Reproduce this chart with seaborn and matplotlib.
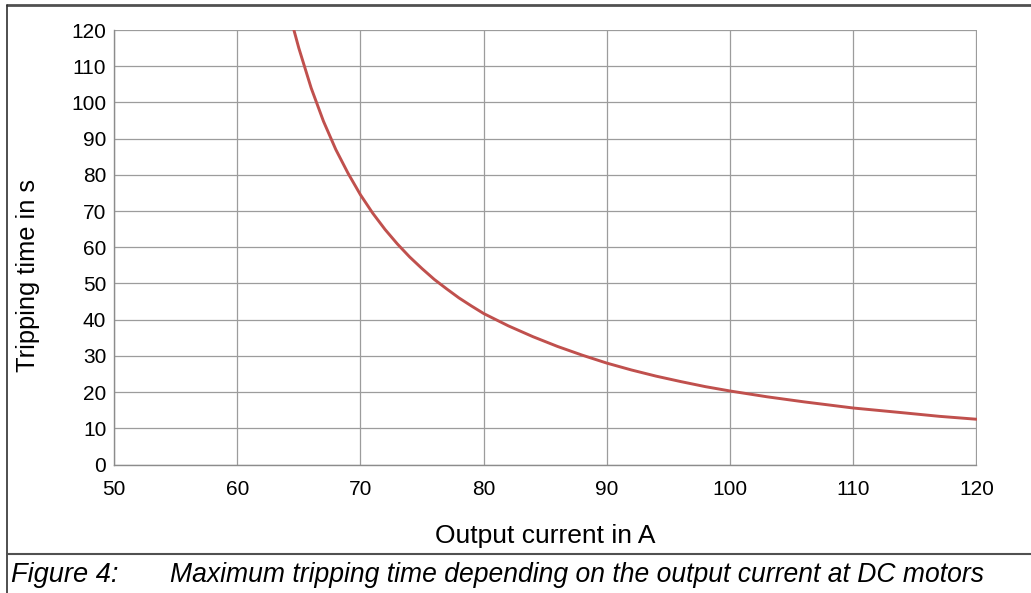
import matplotlib
matplotlib.use("Agg")
import matplotlib.pyplot as plt
from matplotlib.lines import Line2D
import seaborn as sns
import pandas as pd

# Data
current_a = [64.6, 65, 66, 67, 68, 69, 70, 71, 72, 73, 74, 75, 76, 77, 78, 79, 80,
             82, 84, 86, 88, 90, 92, 94, 96, 98, 100, 103, 106, 110, 114, 117, 120]
trip_time_s = [120, 115, 104, 94.8, 87, 80.4, 74.5, 69.4, 64.9, 60.9, 57.3, 54.1, 51.1,
               48.5, 46.0, 43.8, 41.7, 38.3, 35.3, 32.6, 30.2, 28.0, 26.1, 24.4, 22.9,
               21.5, 20.3, 18.7, 17.3, 15.6, 14.3, 13.3, 12.5]
x_ticks = [50, 60, 70, 80, 90, 100, 110, 120]
y_ticks = [0, 10, 20, 30, 40, 50, 60, 70, 80, 90, 100, 110, 120]

x_label = "Output current in A"
y_label = "Tripping time in s"
caption_num = "Figure 4:"
caption_text = "Maximum tripping time depending on the output current at DC motors"

df = pd.DataFrame({"current": current_a, "time": trip_time_s})

sns.set_theme(style="white")
plt.rcParams["font.family"] = ["Liberation Sans", "DejaVu Sans"]

W, H = 1031, 593
fig = plt.figure(figsize=(W / 100, H / 100), dpi=100)
fig.patch.set_facecolor("white")

left, right, top, bottom = 114, 976.5, 30, 464.5
ax = fig.add_axes([left / W, 1 - bottom / H, (right - left) / W, (bottom - top) / H])

sns.lineplot(data=df, x="current", y="time", ax=ax, color="#C0504D", linewidth=2.1)

ax.set_xlim(50, 120)
ax.set_ylim(0, 120)
ax.set_xticks(x_ticks)
ax.set_yticks(y_ticks)
ax.grid(True, color="#9C9C9C", linewidth=0.9)
ax.set_axisbelow(True)
for s in ["top", "right"]:
    ax.spines[s].set_visible(False)
for s in ["left", "bottom"]:
    ax.spines[s].set_color("#8C8C8C")
    ax.spines[s].set_linewidth(1.0)
ax.tick_params(axis="both", which="both", length=4, width=1, color="#8C8C8C",
               labelsize=15, labelcolor="#000000", direction="out")
ax.tick_params(axis="x", pad=7)
ax.tick_params(axis="y", pad=1.5)

ax.set_xlabel(x_label, fontsize=19, va="baseline", color="black")
ax.xaxis.set_label_coords(0.5, -(543 - bottom) / (bottom - top))
ax.set_ylabel(y_label, fontsize=18.3, va="center", color="black")
ax.yaxis.set_label_coords((28 - left) / (right - left), (bottom - 275) / (bottom - top))

# Frame lines around figure and caption separator
fig.add_artist(Line2D([7 / W, 1], [1 - 5 / H, 1 - 5 / H], transform=fig.transFigure,
                      color="#505050", linewidth=2.0))
fig.add_artist(Line2D([7 / W, 7 / W], [0, 1 - 5 / H], transform=fig.transFigure,
                      color="#303030", linewidth=1.2))
fig.add_artist(Line2D([7 / W, 1], [1 - 553.5 / H, 1 - 553.5 / H], transform=fig.transFigure,
                      color="#505050", linewidth=1.5))

fig.text(11 / W, 1 - 582.5 / H, caption_num, fontsize=19.6, style="italic", va="baseline",
         color="black")
fig.text(170 / W, 1 - 582.5 / H, caption_text, fontsize=19.1, style="italic", va="baseline",
         color="black")

fig.savefig("out.png", dpi=100)
